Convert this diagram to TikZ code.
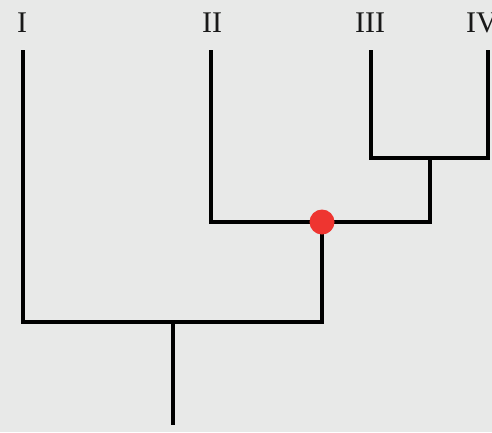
\documentclass[tikz,border=0pt]{standalone}
\usepackage{fontspec}
\setmainfont{Liberation Serif}
\definecolor{bg}{HTML}{E8E9E8}
\definecolor{dotred}{HTML}{EE3530}
\begin{document}
\begin{tikzpicture}[x=1pt,y=-1pt,
  branch/.style={line width=4pt,black,line cap=rect},
  taxon/.style={font=\fontsize{30}{30}\selectfont,inner sep=0pt,text=black!90}]
\fill[bg] (0,0) rectangle (492,432);
\useasboundingbox (0,0) rectangle (492,432);
% labels
\node[taxon] (tI) at (22,23) {I};
\node[taxon] (tII) at (212,23) {II};
\node[taxon] (tIII) at (370,23) {III};
\node[taxon,anchor=west] (tIV) at (466,23) {IV};
% tips
\coordinate (a) at (23,52);
\coordinate (b) at (211,52);
\coordinate (c) at (371,52);
\coordinate (d) at (488,52);
% internal
\coordinate (c1) at (371,158);
\coordinate (d1) at (488,158);
\coordinate (cd) at (430,158);
\coordinate (cd1) at (430,222);
\coordinate (b1) at (211,222);
\coordinate (n) at (322,222);
\coordinate (n1) at (322,322);
\coordinate (a1) at (23,322);
\coordinate (r) at (173,322);
\coordinate (r1) at (173,425);
\draw[branch] (c) -- (c1) -- (d1) -- (d);
\draw[branch] (cd) -- (cd1) -- (b1) -- (b);
\draw[branch] (n) -- (n1) -- (a1) -- (a);
\draw[line width=4pt] (r) -- (r1);
\fill[dotred] (n) circle (12.5);
\end{tikzpicture}
\end{document}
